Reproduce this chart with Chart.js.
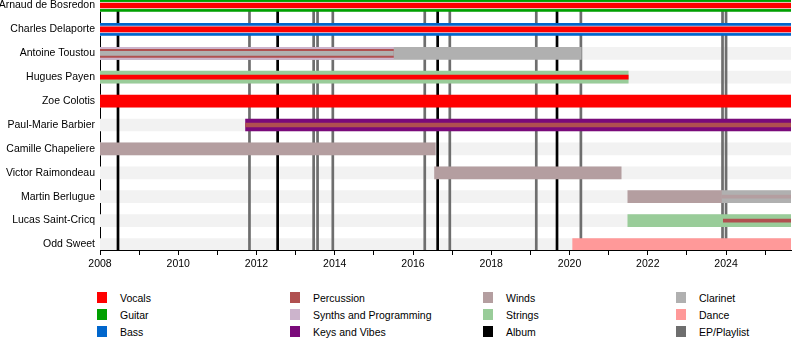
<!DOCTYPE html>
<html>
<head>
<meta charset="utf-8">
<script src="https://cdn.jsdelivr.net/npm/chart.js@4"></script>
<style>
  body { margin: 0; background: #fff; font-family: "Liberation Sans", Arial, sans-serif; }
  #wrap { position: relative; width: 800px; height: 350px; }
  #chart { position: absolute; left: 0; top: 0; }
  #legend {
    position: absolute; left: 97px; top: 292px;
    display: grid; grid-template-columns: repeat(4, 193px);
    grid-template-rows: repeat(3, 17px); grid-auto-flow: column;
    font-size: 10.5px; color: #000;
  }
  #legend div { position: relative; padding-left: 23px; line-height: 12px; }
  #legend i { position: absolute; left: 0; top: 0; width: 10px; height: 11px; }
</style>
</head>
<body>
<div id="wrap">
  <canvas id="chart" width="800" height="280" style="width:800px;height:280px"></canvas>
  <div id="legend"></div>
</div>
<script>
const members = ['Arnaud de Bosredon', 'Charles Delaporte', 'Antoine Toustou', 'Hugues Payen',
  'Zoe Colotis', 'Paul-Marie Barbier', 'Camille Chapeliere', 'Victor Raimondeau',
  'Martin Berlugue', 'Lucas Saint-Cricq', 'Odd Sweet'];

const START = 2008;
const END = 2025.66;

const tickYears = [2008, 2009, 2010, 2011, 2012, 2013, 2014, 2015, 2016, 2017, 2018, 2019, 2020, 2021, 2022, 2023, 2024, 2025];
const tickLabels = ['2008', '', '2010', '', '2012', '', '2014', '', '2016', '', '2018', '', '2020', '', '2022', '', '2024', ''];

// legend order (column by column)
const roles = ['Vocals', 'Guitar', 'Bass', 'Percussion', 'Synths and Programming', 'Keys and Vibes',
  'Winds', 'Strings', 'Album', 'Clarinet', 'Dance', 'EP/Playlist'];

// [member, role, from, to]
const mainSpans = [
  ['Arnaud de Bosredon', 'Guitar', 2008, END],
  ['Charles Delaporte', 'Bass', 2008, END],
  ['Antoine Toustou', 'Clarinet', 2008, 2020.3],
  ['Antoine Toustou', 'Synths and Programming', 2008, 2015.5],
  ['Hugues Payen', 'Strings', 2008, 2021.5],
  ['Zoe Colotis', 'Vocals', 2008, END],
  ['Paul-Marie Barbier', 'Keys and Vibes', 2011.72, END],
  ['Camille Chapeliere', 'Winds', 2008, 2016.57],
  ['Victor Raimondeau', 'Winds', 2016.55, 2021.32],
  ['Martin Berlugue', 'Winds', 2021.49, 2023.9],
  ['Martin Berlugue', 'Clarinet', 2023.9, END],
  ['Lucas Saint-Cricq', 'Strings', 2021.49, END],
  ['Odd Sweet', 'Dance', 2020.08, END]
];
const midSpans = [
  ['Antoine Toustou', 'Percussion', 2008, 2015.5]
];
const ringedSpans = [
  ['Arnaud de Bosredon', 'Vocals', 2008, END],
  ['Charles Delaporte', 'Vocals', 2008, END]
];
const innerSpans = [
  ['Antoine Toustou', 'Clarinet', 2008, 2015.5],
  ['Hugues Payen', 'Vocals', 2008, 2021.5],
  ['Paul-Marie Barbier', 'Percussion', 2011.72, END]
];
const thinSpans = [
  ['Martin Berlugue', 'Winds', 2023.9, END],
  ['Lucas Saint-Cricq', 'Percussion', 2023.93, END]
];

const albums = [2008.46, 2012.54, 2016.63, 2019.68];
const eps = [2011.82, 2013.46, 2013.56, 2013.95, 2016.3, 2016.94, 2019.15, 2020.29, 2023.91, 2024.0];

const roleColors = {
  'Vocals': '#ff0000', 'Guitar': '#00a000', 'Bass': '#0066cc',
  'Percussion': '#b05050', 'Synths and Programming': '#ccb4cc', 'Keys and Vibes': '#7a0a7a',
  'Winds': '#b49ea0', 'Strings': '#99cc99', 'Album': '#000000',
  'Clarinet': '#b0b0b0', 'Dance': '#ff9999', 'EP/Playlist': '#6e6e6e'
};

const font = { family: '"Liberation Sans", Arial, sans-serif', size: 10.5 };

function layer(spans, thickness, order, extra) {
  return Object.assign({
    data: spans.map(s => ({ x: [s[2], s[3]], y: members.indexOf(s[0]) })),
    backgroundColor: spans.map(s => roleColors[s[1]]),
    barThickness: thickness,
    order: order,
    grouped: false,
    borderWidth: 0
  }, extra || {});
}

// Album / EP lines, drawn over the row stripes but under the member bars
const releaseLines = {
  id: 'releaseLines',
  afterDatasetDraw(chart, args) {
    if (args.index !== 0) return;
    const { ctx, chartArea, scales } = chart;
    ctx.save();
    ctx.lineWidth = 2.7;
    [[eps, roleColors['EP/Playlist']], [albums, roleColors['Album']]].forEach(([list, color]) => {
      ctx.strokeStyle = color;
      list.forEach(v => {
        const px = scales.x.getPixelForValue(v);
        ctx.beginPath();
        ctx.moveTo(px, chartArea.top);
        ctx.lineTo(px, chartArea.bottom);
        ctx.stroke();
      });
    });
    ctx.restore();
  }
};

function noPad(s) {
  s.paddingTop = 0; s.paddingBottom = 0; s.paddingLeft = 0; s.paddingRight = 0;
}

new Chart(document.getElementById('chart'), {
  type: 'bar',
  data: {
    datasets: [
      layer(members.map(m => [m, '', START, END]), 12, 10, { backgroundColor: '#f2f2f2' }),
      layer(mainSpans, 12, 5),
      layer(midSpans, 8, 4),
      layer(ringedSpans, 7, 3, {
        borderWidth: { top: 1, bottom: 1, left: 0, right: 0 },
        borderSkipped: false,
        borderColor: ['#eef6ee', '#d4dcf2']
      }),
      layer(innerSpans, 4, 2),
      layer(thinSpans, 3, 1)
    ]
  },
  options: {
    indexAxis: 'y',
    responsive: false,
    animation: false,
    events: [],
    layout: { padding: { left: 0, right: 9, top: 0, bottom: 0 } },
    plugins: { legend: { display: false }, tooltip: { enabled: false } },
    scales: {
      x: {
        type: 'linear', min: START, max: END, offset: false,
        afterBuildTicks: axis => { axis.ticks = tickYears.map(v => ({ value: v })); },
        ticks: {
          autoSkip: false, maxRotation: 0, padding: 3, color: '#000', font: font,
          callback: (v, i) => tickLabels[i]
        },
        grid: { drawOnChartArea: false, tickLength: 5, tickColor: '#000', color: '#000', offset: false },
        border: { color: '#000', width: 1 },
        afterFit: s => { s.height = 30; noPad(s); }
      },
      y: {
        type: 'linear', reverse: true, min: -0.23, max: 10.23, offset: false,
        afterBuildTicks: axis => { axis.ticks = members.map((m, i) => ({ value: i })); },
        ticks: { autoSkip: false, padding: 5, color: '#000', font: font, callback: v => members[v] },
        grid: { drawOnChartArea: false, drawTicks: false, offset: false },
        border: { color: '#000', width: 1 },
        afterFit: s => { s.width = 100; noPad(s); }
      }
    }
  },
  plugins: [releaseLines]
});

const legend = document.getElementById('legend');
roles.forEach(r => {
  const d = document.createElement('div');
  d.innerHTML = '<i style="background:' + roleColors[r] + '"></i>' + r;
  legend.appendChild(d);
});
</script>
</body>
</html>
